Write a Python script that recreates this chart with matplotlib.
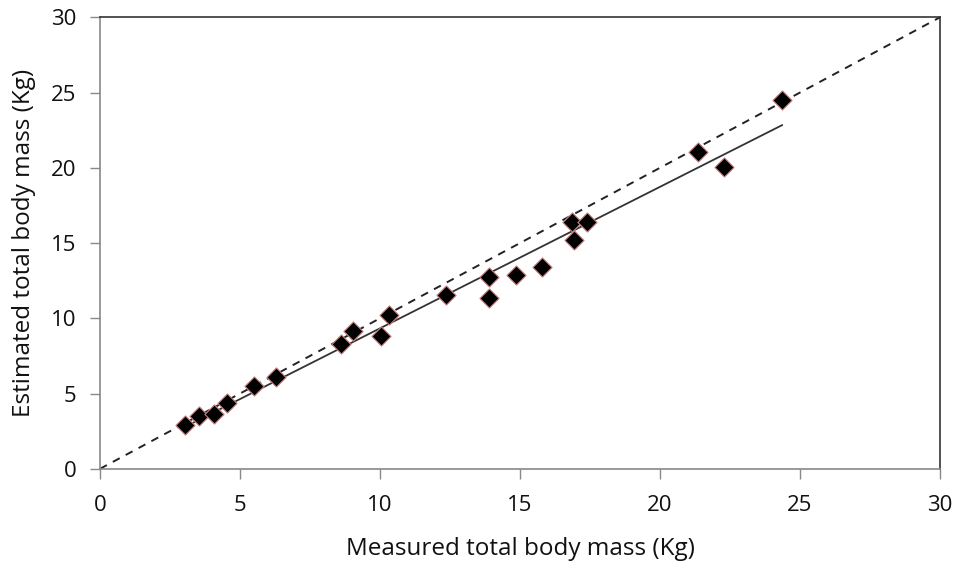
import numpy as np
import matplotlib.pyplot as plt

plt.rcParams['font.family'] = ['Open Sans', 'DejaVu Sans']

# measured vs estimated total body mass (Kg)
measured = [3.02, 3.55, 4.07, 4.54, 5.51, 6.29, 8.59, 9.03, 10.03, 10.32,
            12.35, 13.88, 13.88, 14.87, 15.79, 16.85, 16.92, 17.39,
            21.37, 22.29, 24.36]
estimated = [2.93, 3.53, 3.65, 4.35, 5.51, 6.09, 8.31, 9.18, 8.85, 10.20,
             11.58, 12.73, 11.35, 12.87, 13.42, 16.40, 15.22, 16.40,
             21.07, 20.07, 24.51]
identity = [0, 30]
ticks = [0, 5, 10, 15, 20, 25, 30]

x = np.array(measured)
y = np.array(estimated)
slope, icpt = np.polyfit(x, y, 1)
xf = np.array([x.min(), x.max()])

fig = plt.figure(figsize=(9.55, 5.65), dpi=100)
ax = fig.add_axes([100/955, 1-468.8/565, 840/955, 451.5/565])

ax.plot(identity, identity, color='#222222', lw=1.4, ls=(0, (4, 3.5)), zorder=2)
ax.plot(xf, slope*xf + icpt, color='#333333', lw=1.3, zorder=2)
ax.scatter(x, y, marker='D', s=95, c='black', edgecolors='#c98080',
           linewidths=0.8, zorder=3)

ax.set_xlim(0, 30)
ax.set_ylim(0, 30)
ax.set_xticks(ticks)
ax.set_yticks(ticks)
ax.tick_params(direction='out', length=7, width=1, color='#888888',
               labelsize=16, labelcolor='#111111')
ax.tick_params(axis='y', pad=10)
ax.tick_params(axis='x', pad=12)
for s in ['left', 'bottom']:
    ax.spines[s].set_color('#888888')
    ax.spines[s].set_linewidth(1.2)
for s in ['top', 'right']:
    ax.spines[s].set_color('#333333')
    ax.spines[s].set_linewidth(1.2)

ax.set_xlabel('Measured total body mass (Kg)', fontsize=17.5, labelpad=15,
              color='#111111')
ax.set_ylabel('Estimated total body mass (Kg)', fontsize=17.5, labelpad=11,
              color='#111111')

plt.savefig('out.png', dpi=100)
